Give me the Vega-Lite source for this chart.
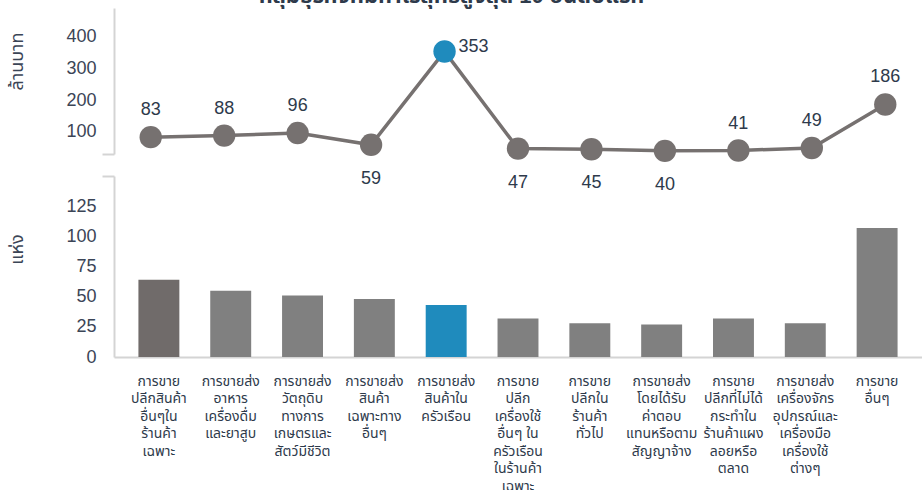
{
  "$schema": "https://vega.github.io/schema/vega-lite/v6.json",
  "padding": {"top": -15, "left": 8, "right": 0, "bottom": 0},
  "background": "white",
  "title": {
    "text": "กลุ่มธุรกิจที่มีกำไรสุทธิสูงสุด 10 อันดับแรก",
    "fontSize": 22,
    "fontWeight": "bold",
    "color": "#2e3a4b",
    "anchor": "start",
    "frame": "bounds",
    "dx": 250,
    "offset": 0
  },
  "config": {
    "view": {"stroke": null},
    "font": "Liberation Sans, Noto Sans Thai, Noto Sans, DejaVu Sans, sans-serif",
    "axis": {
      "labelFontSize": 18,
      "labelColor": "#3b4556",
      "titleFontSize": 18,
      "titleFontWeight": "normal",
      "titleColor": "#3b4556",
      "domainColor": "#d4d4d4",
      "domainWidth": 2,
      "grid": false
    }
  },
  "data": {
    "values": [
      {"id": 1, "cat": "การขาย\nปลีกสินค้า\nอื่นๆใน\nร้านค้า\nเฉพาะ", "profit": 83, "count": 64},
      {"id": 2, "cat": "การขายส่ง\nอาหาร\nเครื่องดื่ม\nและยาสูบ", "profit": 88, "count": 55},
      {"id": 3, "cat": "การขายส่ง\nวัตถุดิบ\nทางการ\nเกษตรและ\nสัตว์มีชีวิต", "profit": 96, "count": 51},
      {"id": 4, "cat": "การขายส่ง\nสินค้า\nเฉพาะทาง\nอื่นๆ", "profit": 59, "count": 48},
      {"id": 5, "cat": "การขายส่ง\nสินค้าใน\nครัวเรือน", "profit": 353, "count": 43},
      {"id": 6, "cat": "การขาย\nปลีก\nเครื่องใช้\nอื่นๆ ใน\nครัวเรือน\nในร้านค้า\nเฉพาะ", "profit": 47, "count": 32},
      {"id": 7, "cat": "การขาย\nปลีกใน\nร้านค้า\nทั่วไป", "profit": 45, "count": 28},
      {"id": 8, "cat": "การขายส่ง\nโดยได้รับ\nค่าตอบ\nแทนหรือตาม\nสัญญาจ้าง", "profit": 40, "count": 27},
      {"id": 9, "cat": "การขาย\nปลีกที่ไม่ได้\nกระทำใน\nร้านค้าแผง\nลอยหรือ\nตลาด", "profit": 41, "count": 32},
      {"id": 10, "cat": "การขายส่ง\nเครื่องจักร\nอุปกรณ์และ\nเครื่องมือ\nเครื่องใช้\nต่างๆ", "profit": 49, "count": 28},
      {"id": 11, "cat": "การขาย\nอื่นๆ", "profit": 186, "count": 107}
    ]
  },
  "bounds": "flush",
  "spacing": 22,
  "vconcat": [
    {
      "width": 808,
      "height": 146,
      "encoding": {
        "x": {
          "field": "cat",
          "type": "nominal",
          "sort": null,
          "scale": {"paddingInner": 0.43, "paddingOuter": 0.34},
          "axis": null
        },
        "y": {
          "field": "profit",
          "type": "quantitative",
          "scale": {"domain": [30, 490], "nice": false, "zero": false},
          "axis": {
            "title": "ล้านบาท",
            "titleY": 53,
            "values": [30, 100, 200, 300, 400],
            "labelExpr": "datum.value == 30 ? '' : datum.label",
            "ticks": true,
            "tickSize": 12,
            "tickWidth": 2,
            "tickColor": {"condition": {"test": "datum.value == 30", "value": "#d4d4d4"}, "value": "transparent"},
            "labelPadding": 6,
            "titlePadding": 39
          }
        }
      },
      "layer": [
        {"mark": {"type": "line", "color": "#767170", "strokeWidth": 3.5}},
        {
          "mark": {"type": "point", "filled": true, "size": 500, "opacity": 1},
          "encoding": {
            "color": {"condition": {"test": "datum.id == 5", "value": "#1f8bbd"}, "value": "#767170"}
          }
        },
        {
          "transform": [{"filter": "indexof([4, 5, 6, 7, 8], datum.id) < 0"}],
          "mark": {"type": "text", "dy": -27, "fontSize": 18, "color": "#2e3a4b"},
          "encoding": {"text": {"field": "profit", "type": "quantitative"}}
        },
        {
          "transform": [{"filter": "indexof([4, 6, 7, 8], datum.id) >= 0"}],
          "mark": {"type": "text", "dy": 34, "fontSize": 18, "color": "#2e3a4b"},
          "encoding": {"text": {"field": "profit", "type": "quantitative"}}
        },
        {
          "transform": [{"filter": "datum.id == 5"}],
          "mark": {"type": "text", "dx": 14, "dy": -4, "align": "left", "fontSize": 18, "color": "#2e3a4b"},
          "encoding": {"text": {"field": "profit", "type": "quantitative"}}
        }
      ]
    },
    {
      "width": 808,
      "height": 181,
      "mark": {"type": "bar"},
      "encoding": {
        "x": {
          "field": "cat",
          "type": "nominal",
          "sort": null,
          "scale": {"paddingInner": 0.43, "paddingOuter": 0.34},
          "axis": {
            "title": null,
            "labelExpr": "split(datum.label, '\\n')",
            "labelAngle": 0,
            "ticks": false,
            "labelFontSize": 14,
            "labelLineHeight": 17.5,
            "labelPadding": 17,
            "labelColor": "#2e3a4b",
            "labelBaseline": "top"
          }
        },
        "y": {
          "field": "count",
          "type": "quantitative",
          "scale": {"domain": [0, 150], "nice": false},
          "axis": {
            "title": "แห่ง",
            "titleY": 73,
            "values": [0, 25, 50, 75, 100, 125, 150],
            "labelExpr": "datum.value == 150 ? '' : datum.label",
            "ticks": true,
            "tickSize": 12,
            "tickWidth": 2,
            "tickColor": {"condition": {"test": "datum.value == 150", "value": "#d4d4d4"}, "value": "transparent"},
            "labelPadding": 6,
            "titlePadding": 39
          }
        },
        "color": {
          "condition": [
            {"test": "datum.id == 5", "value": "#1f8bbd"},
            {"test": "datum.id == 1", "value": "#706b6a"}
          ],
          "value": "#808080"
        }
      }
    }
  ]
}
